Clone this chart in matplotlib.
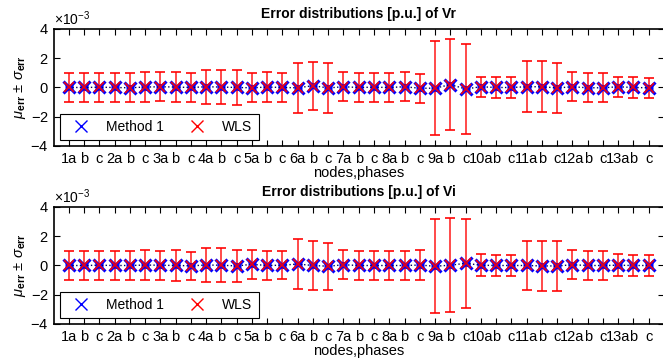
import numpy as np
import matplotlib.pyplot as plt

plt.rcParams['font.family'] = ['Liberation Sans', 'DejaVu Sans']
plt.rcParams['mathtext.fontset'] = 'custom'
plt.rcParams['mathtext.rm'] = 'Liberation Sans'
plt.rcParams['mathtext.it'] = 'Liberation Sans:italic'
plt.rcParams['mathtext.bf'] = 'Liberation Sans:bold'

# tick labels: nodes 1..13, phases a b c
labels = []
for n in range(1, 14):
    labels += [f"{n}a", "b", "c"]

# Vr errors, in units of 1e-3 p.u.
vr_mean_m1 = [0, 0, 0.02, 0, -0.02, 0.03, 0.05, 0.03, 0, 0.05, 0.03, 0, -0.02, 0.03, 0,
              -0.02, 0.12, -0.03, 0.05, 0, 0.02, 0, 0.05, -0.05, -0.05, 0.2, -0.1,
              0.05, 0, 0, 0.05, 0.05, -0.03, 0.05, -0.02, -0.02, 0.05, 0, -0.02]
vr_std_m1 = [0.1] * 39
vr_mean_wls = vr_mean_m1
vr_std_wls = [1.0, 1.0, 1.0, 1.0, 1.0, 1.0, 1.0, 1.0, 1.0, 1.15, 1.15, 1.2, 1.0, 1.0, 1.0,
              1.7, 1.65, 1.7, 1.0, 1.0, 1.0, 1.0, 1.0, 1.0, 3.2, 3.1, 3.1,
              0.7, 0.7, 0.7, 1.75, 1.75, 1.7, 1.0, 1.0, 1.0, 0.7, 0.7, 0.7]

# Vi errors, in units of 1e-3 p.u.
vi_mean_m1 = [0, 0, 0.02, 0, 0, 0.03, 0.02, 0, -0.02, 0.03, 0.02, -0.03, 0.08, 0, 0.02,
              0.1, 0, -0.05, 0.05, 0, 0, 0, 0, 0.03, -0.05, 0.02, 0.15,
              0.02, 0, 0, 0, -0.03, -0.03, 0.05, 0, 0, 0.02, 0, 0]
vi_std_m1 = [0.1] * 39
vi_mean_wls = vi_mean_m1
vi_std_wls = [1.0, 1.0, 1.0, 1.0, 1.0, 1.0, 1.0, 1.03, 0.95, 1.15, 1.17, 1.1, 1.0, 1.0, 0.95,
              1.7, 1.7, 1.6, 1.0, 1.0, 1.0, 1.0, 1.0, 1.0, 3.2, 3.2, 3.05,
              0.75, 0.75, 0.73, 1.7, 1.72, 1.72, 1.0, 1.0, 1.02, 0.75, 0.75, 0.73]

x = np.arange(1, 40)

fig = plt.figure(figsize=(6.63, 3.61), dpi=100)
ax1 = fig.add_axes([0.0807, 0.5956, 0.9208, 0.3241])
ax2 = fig.add_axes([0.0807, 0.1025, 0.9208, 0.3241])

panels = [(ax1, vr_mean_m1, vr_std_m1, vr_mean_wls, vr_std_wls, "Vr"),
          (ax2, vi_mean_m1, vi_std_m1, vi_mean_wls, vi_std_wls, "Vi")]

for ax, m1, s1, mw, sw, name in panels:
    m1 = np.array(m1) * 1e-3
    s1 = np.array(s1) * 1e-3
    mw = np.array(mw) * 1e-3
    sw = np.array(sw) * 1e-3
    ax.errorbar(x, m1, yerr=s1, fmt='x', color='blue', ms=9, mew=2.2,
                elinewidth=2, capsize=3, capthick=2)
    ax.plot(x, m1, ':', color='#000060', lw=1)
    ax.errorbar(x, mw, yerr=sw, fmt='x', color='red', ms=6.5, mew=1.3,
                elinewidth=1.1, capsize=3.5, capthick=1.1, alpha=0.9)
    h1 = ax.plot([], [], 'x', color='blue', ms=8, mew=1)[0]
    h2 = ax.plot([], [], 'x', color='red', ms=8, mew=1)[0]
    ax.legend([h1, h2], ["Method 1", "WLS"], ncol=2, loc='lower left',
              bbox_to_anchor=(0.01, 0.05), fontsize=10, fancybox=False,
              edgecolor='black', framealpha=1, columnspacing=1.3,
              handletextpad=0.7, borderpad=0.45, handlelength=2.2,
              borderaxespad=0)
    ax.legend_.get_frame().set_linewidth(0.8)
    ax.set_xlim(0, 40)
    ax.set_ylim(-4e-3, 4e-3)
    ax.set_yticks([-4e-3, -2e-3, 0, 2e-3, 4e-3])
    ax.set_xticks(x)
    ax.set_xticklabels(labels)
    ax.ticklabel_format(axis='y', style='sci', scilimits=(0, 0), useMathText=True)
    ax.yaxis.get_offset_text().set_fontsize(10)
    ax.tick_params(direction='in', top=True, right=True, labelsize=10.5, length=4, width=0.8)
    ax.tick_params(axis='x', pad=4)
    ax.set_title(f"Error distributions [p.u.] of {name}", fontsize=10, fontweight='bold', pad=8)
    ax.set_xlabel("nodes,phases", fontsize=10.5, labelpad=0)
    ax.set_ylabel(r"$\mu_{\mathbf{err}}\, \pm\, \sigma_{\mathbf{err}}$", fontsize=10.5, labelpad=2)
    for sp in ax.spines.values():
        sp.set_linewidth(1.2)

fig.savefig("out.png", dpi=100)
